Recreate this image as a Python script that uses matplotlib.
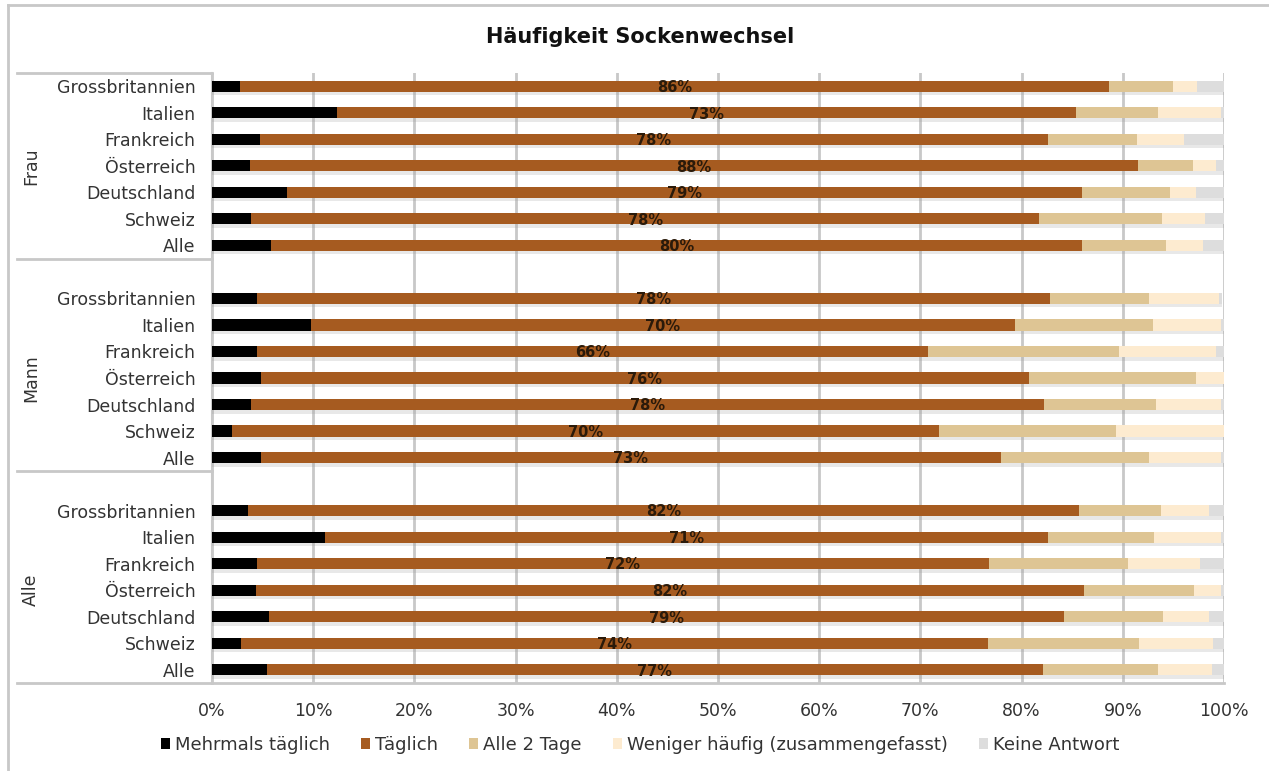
import matplotlib
matplotlib.use("Agg")
import matplotlib.pyplot as plt
import matplotlib.patheffects as pe
from matplotlib.transforms import blended_transform_factory
from matplotlib.patches import Patch
import numpy as np

plt.rcParams['font.family'] = ['DejaVu Sans']

title = "Häufigkeit Sockenwechsel"
groups = ["Frau", "Mann", "Alle"]
countries = ["Grossbritannien", "Italien", "Frankreich", "Österreich",
             "Deutschland", "Schweiz", "Alle"]
series_names = ["Mehrmals täglich", "Täglich", "Alle 2 Tage",
                "Weniger häufig (zusammengefasst)", "Keine Antwort"]
colors = ["#000000", "#A65B20", "#DEC594", "#FDEBD0", "#DDDDDD"]

# values per group, rows in order of `countries`
mehrmals = {
    "Frau": [2.8, 12.4, 4.7, 3.8, 7.4, 3.9, 5.8],
    "Mann": [4.4, 9.8, 4.4, 4.8, 3.9, 2.0, 4.8],
    "Alle": [3.6, 11.2, 4.4, 4.3, 5.6, 2.9, 5.4],
}
taeglich = {
    "Frau": [85.8, 73.0, 77.9, 87.7, 78.6, 77.8, 80.2],
    "Mann": [78.4, 69.5, 66.4, 75.9, 78.3, 69.8, 73.2],
    "Alle": [82.1, 71.4, 72.4, 81.9, 78.6, 73.8, 76.7],
}
alle2 = {
    "Frau": [6.4, 8.1, 8.8, 5.4, 8.7, 12.2, 8.3],
    "Mann": [9.8, 13.7, 18.8, 16.5, 11.1, 17.5, 14.6],
    "Alle": [8.1, 10.5, 13.7, 10.8, 9.8, 14.9, 11.4],
}
weniger = {
    "Frau": [2.3, 6.2, 4.6, 2.3, 2.5, 4.2, 3.6],
    "Mann": [6.9, 6.7, 9.6, 2.8, 6.4, 10.7, 7.1],
    "Alle": [4.7, 6.6, 7.1, 2.7, 4.5, 7.3, 5.3],
}
keine = {
    "Frau": [2.7, 0.3, 4.0, 0.8, 2.8, 1.9, 2.1],
    "Mann": [0.3, 0.3, 0.8, 0.0, 0.3, 0.0, 0.3],
    "Alle": [1.5, 0.3, 2.4, 0.3, 1.5, 1.1, 1.2],
}

W, H = 1269, 771
fig = plt.figure(figsize=(W / 100, H / 100), dpi=100)
ax = fig.add_axes([212 / W, 1 - 683 / H, (1224 - 212) / W, (683 - 73) / H])

# slot positions: groups of 7 rows separated by a blank slot
positions = []
for gi in range(len(groups)):
    base = gi * 8
    positions.append([base + i for i in range(len(countries))])

bar_h = 0.42
shadow = [pe.SimplePatchShadow(offset=(0, -2.5), shadow_rgbFace="#999999", alpha=0.22), pe.Normal()]
all_series = [mehrmals, taeglich, alle2, weniger, keine]
for gi, g in enumerate(groups):
    y = np.array(positions[gi])
    left = np.zeros(len(countries))
    for si, s in enumerate(all_series):
        vals = np.array(s[g])
        bars = ax.barh(y, vals, left=left, height=bar_h, color=colors[si],
                       edgecolor="none", zorder=3,
                       label=series_names[si] if gi == 0 else None)
        for b in bars:
            b.set_path_effects(shadow)
        if si == 1:
            for yy, l, v in zip(y, left, vals):
                ax.text(l + v / 2, yy + 0.05, f"{int(v + 0.5)}%", ha="center", va="center",
                        fontsize=10.5, fontweight="bold", color="#2a1a0a", zorder=5)
        left = left + vals

ax.set_xlim(0, 100)
ax.set_ylim(22.5, -0.5)
ax.set_xticks(np.arange(0, 101, 10))
ax.set_xticklabels([f"{t}%" for t in range(0, 101, 10)], fontsize=12.5, color="#333333")
ax.tick_params(axis="x", length=0, pad=14)
ytick_pos = [p for grp in positions for p in grp]
ax.set_yticks(ytick_pos)
ax.set_yticklabels(countries * 3, fontsize=12.5, color="#333333")
ax.tick_params(axis="y", length=0, pad=12)
ax.grid(axis="x", color="#C8C8C8", linewidth=2, zorder=0)
for sp in ["top", "right"]:
    ax.spines[sp].set_visible(False)
ax.spines["left"].set_color("#C8C8C8")
ax.spines["left"].set_linewidth(1.5)
ax.spines["bottom"].set_color("#C8C8C8")
ax.spines["bottom"].set_linewidth(2)

# group table lines and labels
trans = blended_transform_factory(fig.transFigure, ax.transData)
for yb in [-0.5, 6.5, 14.5, 22.5]:
    ax.plot([17 / W, 212 / W], [yb, yb], transform=trans, color="#C8C8C8",
            linewidth=2, clip_on=False, zorder=1)
group_centers = [3.0, 11.0, 19.0]
for g, c in zip(groups, group_centers):
    ax.text(31 / W, c, g, transform=trans, rotation=90, ha="center", va="center",
            fontsize=12.5, color="#333333")

# outer frame
fig.add_artist(plt.Line2D([8 / W, 8 / W], [0, 1 - 5 / H], transform=fig.transFigure,
                          color="#C8C8C8", linewidth=2))
fig.add_artist(plt.Line2D([8 / W, 1], [1 - 5 / H, 1 - 5 / H], transform=fig.transFigure,
                          color="#C8C8C8", linewidth=2))

fig.text(640 / W, 1 - 37 / H, title, ha="center", va="center", fontsize=15,
         fontweight="bold", color="#111111")

handles = [Patch(facecolor=c, edgecolor="none") for c in colors]
fig.legend(handles, series_names, loc="center", bbox_to_anchor=(640 / W, 1 - 745 / H),
           ncol=5, frameon=False, fontsize=13, handlelength=0.5, handleheight=0.5,
           handletextpad=0.25, columnspacing=1.75, labelcolor="#333333")

fig.savefig("out.png", dpi=100)
